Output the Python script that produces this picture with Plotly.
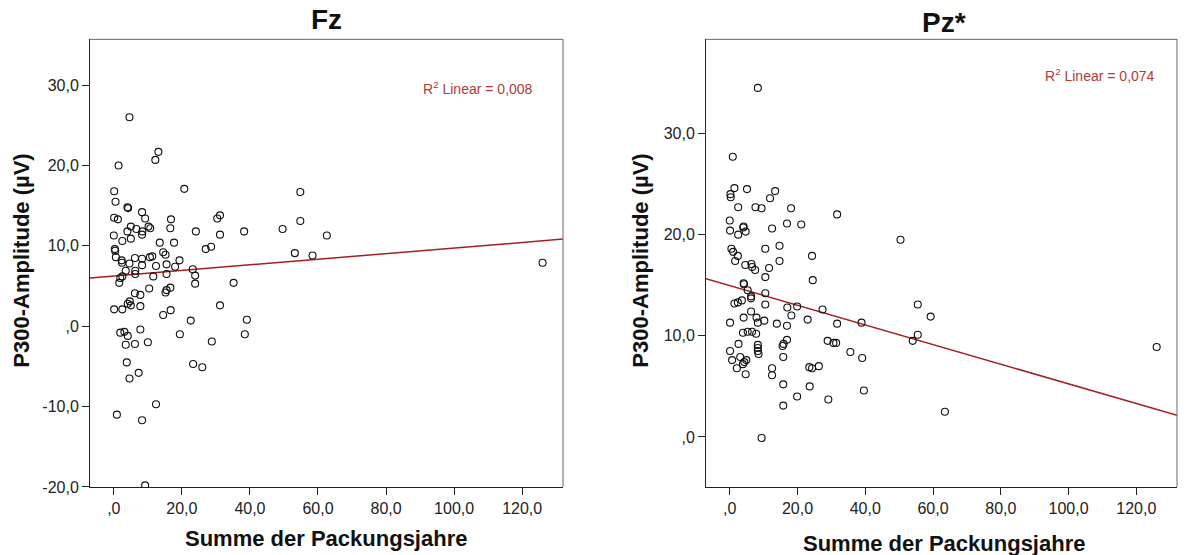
import numpy as np
import plotly.graph_objects as go
from plotly.subplots import make_subplots

# ---------------- data ----------------
fz_x = [4.6, 13.1, 12.2, 1.4, 20.7, 0.1, 0.5, 4.0, 4.2, 8.3, 9.2, 0.1, 1.2, 16.8, 16.6, 5.0, 6.6, 10.2, 10.7,
        8.4, 8.3, 4.0, 24.1, 30.4, 31.2, 31.2, 0.0, 2.5, 5.0, 13.5, 17.7, 0.3, 0.4, 14.5, 15.2, 27.0, 28.6,
        0.6, 2.3, 2.4, 4.6, 6.2, 8.3, 10.6, 11.3, 8.3, 12.4, 15.5, 19.3, 18.0, 3.5, 6.3, 6.3, 2.5, 1.9, 1.6,
        11.6, 15.5, 23.2, 23.9, 23.9, 10.4, 16.6, 15.5, 15.2, 6.2, 7.8, 4.7, 4.1, 5.0, 0.1, 2.5, 7.8, 31.2,
        16.7, 14.5, 22.6, 28.8, 19.4, 1.9, 3.1, 7.8, 4.1, 3.5, 6.2, 10.0, 3.8, 7.3, 4.6, 23.3, 26.0, 12.4,
        0.9, 8.3, 9.2, 54.8, 54.8, 38.3, 49.6, 62.6, 53.2, 58.4, 35.2, 39.1, 38.5, 126.0]
fz_y = [26.0, 21.7, 20.7, 20.0, 17.1, 16.8, 15.5, 14.8, 14.7, 14.2, 13.4, 13.5, 13.3, 13.3, 12.2, 12.4, 12.1, 12.4, 12.2,
        11.8, 11.4, 11.8, 11.8, 13.4, 13.8, 11.4, 11.3, 10.6, 10.9, 10.4, 10.4, 9.6, 9.4, 9.2, 8.9, 9.6, 9.9,
        8.6, 8.2, 7.9, 7.8, 8.5, 8.4, 8.6, 8.7, 7.6, 7.5, 7.7, 8.2, 7.4, 6.9, 6.9, 6.5, 6.2, 6.0, 5.4,
        6.2, 6.5, 7.1, 6.3, 5.3, 4.7, 4.8, 4.5, 4.2, 4.1, 3.9, 3.1, 2.8, 2.6, 2.1, 2.1, 2.5, 2.6,
        2.0, 1.4, 0.7, -1.9, -1.0, -0.8, -0.7, -0.4, -1.2, -2.3, -2.2, -2.0, -4.5, -5.8, -6.5, -4.7, -5.1, -9.7,
        -11.0, -11.7, -19.8, 16.7, 13.1, 11.8, 12.1, 11.3, 9.1, 8.8, 5.4, 0.8, -1.0, 7.9]

pz_x = [8.3, 0.9, 1.4, 0.2, 0.3, 5.1, 13.4, 11.9, 2.5, 7.6, 9.4, 18.1, 31.7, 0.0, 0.1, 4.1, 4.0, 4.7, 2.5, 12.5,
        16.9, 21.1, 14.7, 10.5, 0.5, 1.0, 2.4, 24.3, 1.6, 14.7, 4.6, 6.4, 6.6, 7.5, 11.6, 10.5, 24.5, 4.1, 4.2,
        5.3, 6.3, 6.3, 10.5, 3.6, 2.4, 1.4, 10.5, 17.0, 19.9, 18.2, 27.4, 23.0, 31.7, 6.3, 4.1, 7.9, 8.3, 10.2,
        0.1, 13.9, 16.9, 3.9, 5.3, 6.6, 7.8, 2.6, 8.3, 8.3, 8.3, 8.5, 16.9, 15.9, 15.6, 28.9, 30.6, 31.4, 0.1,
        0.7, 3.1, 4.3, 4.9, 3.9, 2.1, 4.7, 15.8, 12.5, 12.5, 23.5, 24.3, 26.3, 15.8, 23.6, 19.9, 29.1, 15.8,
        9.4, 50.4, 55.5, 59.3, 38.9, 55.5, 54.0, 35.6, 39.1, 39.6, 63.5, 126.0]
pz_y = [34.5, 27.7, 24.6, 24.0, 23.7, 24.5, 24.3, 23.6, 22.7, 22.7, 22.6, 22.6, 22.0, 21.4, 20.4, 20.8, 20.7, 20.3, 20.0, 20.6,
        21.1, 21.0, 18.9, 18.6, 18.6, 18.3, 17.9, 17.9, 17.4, 17.4, 17.0, 17.1, 16.8, 16.5, 16.7, 15.8, 15.5, 15.2, 15.1,
        14.5, 13.9, 13.7, 14.2, 13.5, 13.3, 13.2, 13.1, 12.8, 12.9, 12.0, 12.6, 11.6, 11.2, 12.4, 11.8, 11.8, 11.3, 11.5,
        11.3, 11.2, 11.0, 10.3, 10.4, 10.4, 10.2, 9.2, 9.1, 8.8, 8.5, 8.2, 9.6, 9.2, 9.0, 9.5, 9.3, 9.3, 8.5,
        7.6, 7.9, 7.4, 7.6, 7.2, 6.8, 6.2, 7.9, 6.8, 6.1, 6.9, 6.8, 7.0, 5.2, 5.0, 4.0, 3.7, 3.1,
        -0.1, 19.5, 13.1, 11.9, 11.3, 10.1, 9.5, 8.4, 7.8, 4.6, 2.5, 8.9]

titles = ["Fz", "Pz*"]
r2_labels = ["R<sup>2</sup> Linear = 0,008", "R<sup>2</sup> Linear = 0,074"]
x_title = "Summe der Packungsjahre"
y_title = "P300-Amplitude (µV)"

x_tickvals = [0, 20, 40, 60, 80, 100, 120]
x_ticktext = [",0", "20,0", "40,0", "60,0", "80,0", "100,0", "120,0"]
fz_tickvals = [-20, -10, 0, 10, 20, 30]
fz_ticktext = ["-20,0", "-10,0", ",0", "10,0", "20,0", "30,0"]
pz_tickvals = [0, 10, 20, 30]
pz_ticktext = [",0", "10,0", "20,0", "30,0"]

x_range = [-7.0, 132.0]
fz_range = [-20.0, 35.7]
pz_range = [-4.94, 39.3]

# ---------------- figure ----------------
W, H = 1188, 555
FONT = "Liberation Sans, Arial, sans-serif"
LINE_RED = "#a3201f"
TEXT_RED = "#b23a3a"

fig = make_subplots(rows=1, cols=2)

dom_y = [1 - 495 / H, 1 - 40 / H]
dom_x1 = [90 / W, 563 / W]
dom_x2 = [706 / W, 1177 / W]

def add_panel(col, xs, ys):
    xa = np.array(xs)
    ya = np.array(ys)
    b, a = np.polyfit(xa, ya, 1)
    lx = np.array(x_range)
    fig.add_trace(go.Scatter(x=lx, y=a + b * lx, mode="lines",
                             line=dict(color=LINE_RED, width=1.5),
                             showlegend=False, hoverinfo="skip"), row=1, col=col)
    fig.add_trace(go.Scatter(x=xa, y=ya, mode="markers",
                             marker=dict(symbol="circle-open", size=7,
                                         color="#111111", line=dict(width=1.1)),
                             showlegend=False), row=1, col=col)

add_panel(1, fz_x, fz_y)
add_panel(2, pz_x, pz_y)

axis_common = dict(showgrid=False, zeroline=False, showline=True, linecolor="#222222",
                   linewidth=1, ticks="outside", ticklen=7, tickwidth=1, tickcolor="#222222",
                   tickfont=dict(family=FONT, size=16, color="#222222"))

fig.update_xaxes(domain=dom_x1, range=x_range, tickvals=x_tickvals, ticktext=x_ticktext,
                 **axis_common, row=1, col=1)
fig.update_xaxes(domain=dom_x2, range=x_range, tickvals=x_tickvals, ticktext=x_ticktext,
                 **axis_common, row=1, col=2)
fig.update_yaxes(domain=dom_y, range=fz_range, tickvals=fz_tickvals, ticktext=fz_ticktext,
                 **axis_common, row=1, col=1)
fig.update_yaxes(domain=dom_y, range=pz_range, tickvals=pz_tickvals, ticktext=pz_ticktext,
                 **axis_common, row=1, col=2)

# frame top/right (gray)
for dx in (dom_x1, dom_x2):
    fig.add_shape(type="line", xref="paper", yref="paper", x0=dx[0], x1=dx[1], y0=dom_y[1], y1=dom_y[1],
                  line=dict(color="#666666", width=1))
    fig.add_shape(type="line", xref="paper", yref="paper", x0=dx[1], x1=dx[1], y0=dom_y[0], y1=dom_y[1],
                  line=dict(color="#666666", width=1))

def note(text, px, py, size, color="#111111", angle=0):
    return dict(text=text, x=px / W, y=1 - py / H, xref="paper", yref="paper",
                xanchor="center", yanchor="middle", textangle=angle, showarrow=False,
                font=dict(family=FONT, size=size, color=color))

ann = [
    note("<b>%s</b>" % titles[0], 326, 20, 28),
    note("<b>%s</b>" % titles[1], 944, 23, 28),
    note("<b>%s</b>" % x_title, 326, 547, 22),
    note("<b>%s</b>" % x_title, 944, 552, 22),
    note("<b>%s</b>" % y_title, 22, 265, 22, angle=-90),
    note("<b>%s</b>" % y_title, 641, 265, 22, angle=-90),
    note(r2_labels[0], 478, 89, 14, TEXT_RED),
    note(r2_labels[1], 1100, 76, 14, TEXT_RED),
]

fig.update_layout(width=W, height=H, margin=dict(l=0, r=0, t=0, b=0),
                  paper_bgcolor="white", plot_bgcolor="white",
                  annotations=ann, font=dict(family=FONT))

fig.write_html("out.html")
